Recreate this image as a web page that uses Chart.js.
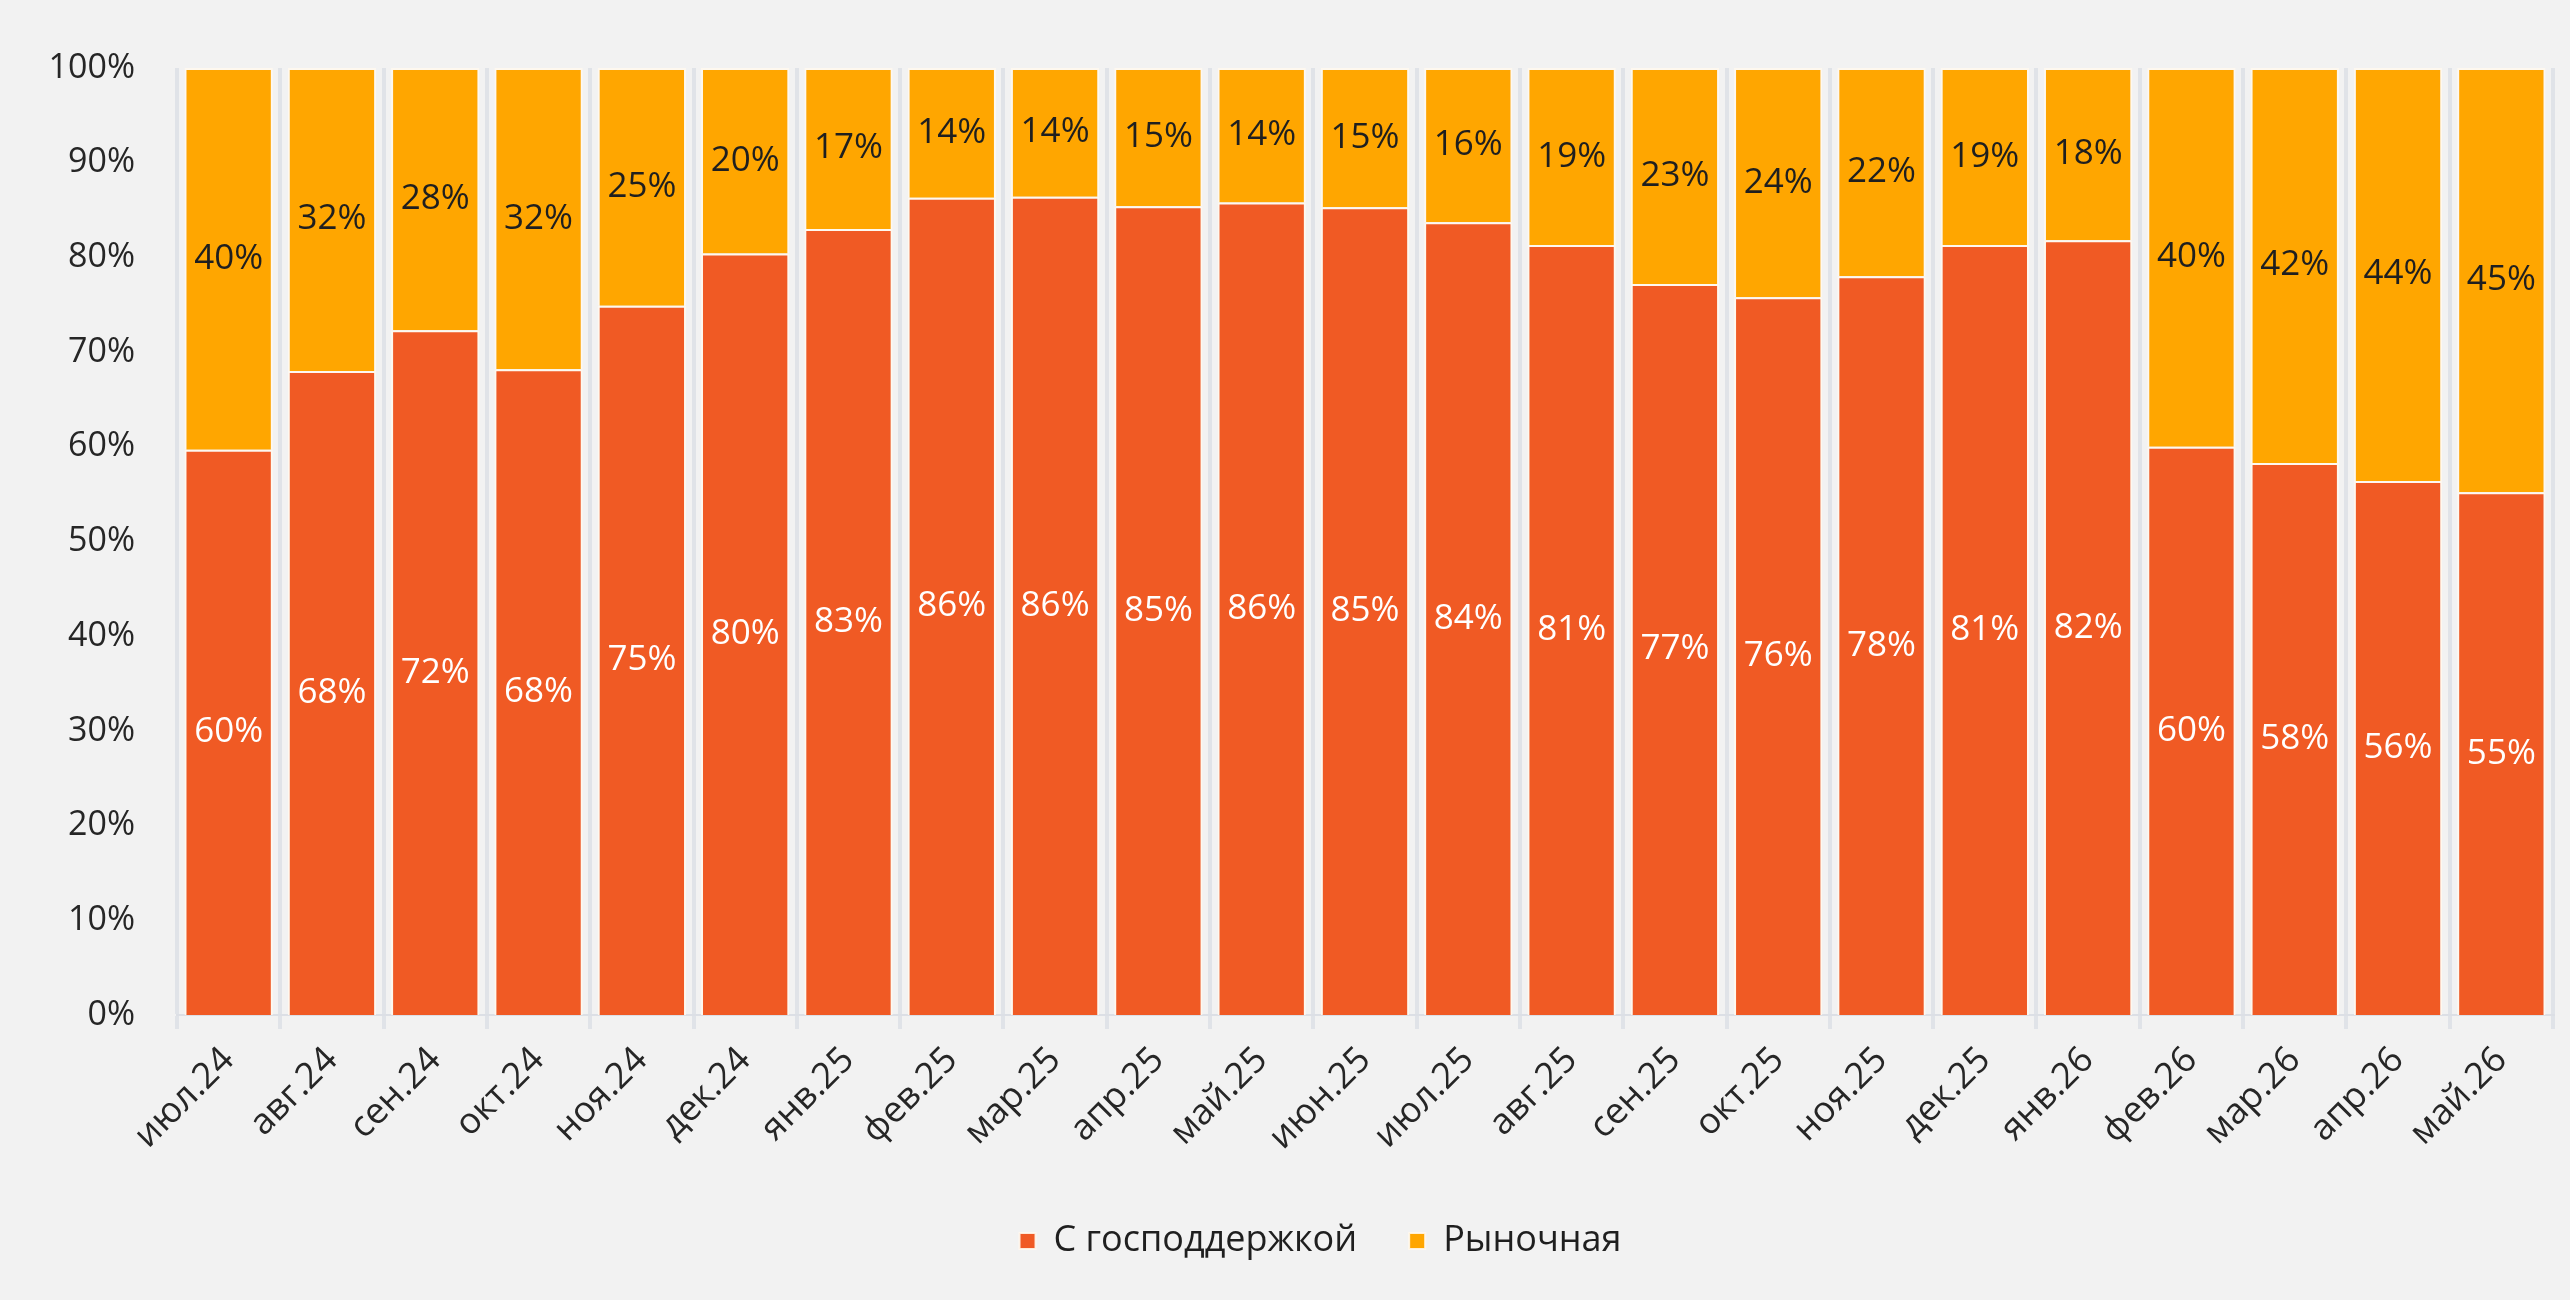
<!DOCTYPE html>
<html>
<head>
<meta charset="utf-8">
<script src="https://cdn.jsdelivr.net/npm/chart.js@4"></script>
<style>
  html, body { margin: 0; padding: 0; background: #f2f2f2; }
  #wrap { width: 2570px; height: 1300px; }
</style>
</head>
<body>
<div id="wrap"><canvas id="mortgageChart" width="2570" height="1300"></canvas></div>
<script>
const months = ['июл.24', 'авг.24', 'сен.24', 'окт.24', 'ноя.24', 'дек.24', 'янв.25', 'фев.25',
    'мар.25', 'апр.25', 'май.25', 'июн.25', 'июл.25', 'авг.25', 'сен.25', 'окт.25', 'ноя.25',
    'дек.25', 'янв.26', 'фев.26', 'мар.26', 'апр.26', 'май.26'];
const withSupport = [59.7, 68.0, 72.3, 68.2, 74.9, 80.4, 83.0, 86.3, 86.4, 85.4, 85.8, 85.3, 83.7,
    81.3, 77.2, 75.8, 78.0, 81.3, 81.8, 60.0, 58.3, 56.4, 55.2];
const market = [40.3, 32.0, 27.7, 31.8, 25.1, 19.6, 17.0, 13.7, 13.6, 14.6, 14.2, 14.7, 16.3,
    18.7, 22.8, 24.2, 22.0, 18.7, 18.2, 40.0, 41.7, 43.6, 44.8];
const yTicks = [0, 10, 20, 30, 40, 50, 60, 70, 80, 90, 100];

const FONT = "'Open Sans', 'Noto Sans', sans-serif";

// подписи значений по центру каждого сегмента
const segmentLabels = {
    id: 'segmentLabels',
    afterDatasetsDraw(chart) {
        const ctx = chart.ctx;
        ctx.save();
        ctx.font = '35px ' + FONT;
        ctx.textAlign = 'center';
        ctx.textBaseline = 'middle';
        chart.data.datasets.forEach((ds, i) => {
            const meta = chart.getDatasetMeta(i);
            ctx.fillStyle = i === 0 ? '#ffffff' : '#1f1f1f';
            meta.data.forEach((bar, j) => {
                const y = (bar.y + bar.base) / 2;
                ctx.fillText(Math.round(ds.data[j]) + '%', bar.x, y);
            });
        });
        ctx.restore();
    }
};

// легенда в оригинале чуть правее центра холста
const legendShift = {
    id: 'legendShift',
    afterLayout(chart) {
        chart.legend.left += 88;
    }
};

new Chart(document.getElementById('mortgageChart'), {
    type: 'bar',
    data: {
        labels: months,
        datasets: [{
            label: 'С господдержкой',
            data: withSupport,
            backgroundColor: 'rgb(240, 90, 36)',
            borderColor: 'rgba(255, 248, 238, 0.9)',
            borderWidth: 2,
            barPercentage: 0.855,
            categoryPercentage: 1
        }, {
            label: 'Рыночная',
            data: market,
            backgroundColor: 'rgb(255, 166, 0)',
            borderColor: 'rgba(255, 248, 238, 0.9)',
            borderWidth: 2,
            barPercentage: 0.855,
            categoryPercentage: 1
        }]
    },
    options: {
        responsive: false,
        animation: false,
        layout: {
            padding: { top: 68, right: 17, bottom: 31, left: 0 }
        },
        plugins: {
            legend: {
                position: 'bottom',
                labels: {
                    font: { family: FONT, size: 36 },
                    color: '#1f1f1f',
                    boxWidth: 16,
                    boxHeight: 16,
                    padding: 52
                }
            },
            tooltip: { enabled: false }
        },
        scales: {
            x: {
                stacked: true,
                grid: {
                    display: true,
                    offset: true,
                    drawOnChartArea: true,
                    color: '#e0e3e8',
                    lineWidth: 4,
                    tickLength: 14
                },
                border: { display: true, color: '#dcdfe5', width: 2 },
                ticks: {
                    font: { family: FONT, size: 36 },
                    color: '#262626',
                    maxRotation: 45,
                    minRotation: 45,
                    padding: 10
                },
                afterFit(scale) { scale.height = 156; }
            },
            y: {
                stacked: true,
                min: 0,
                max: 100,
                afterBuildTicks(scale) { scale.ticks = yTicks.map(v => ({ value: v })); },
                grid: { display: false },
                border: { display: false },
                ticks: {
                    font: { family: FONT, size: 34 },
                    color: '#262626',
                    padding: 34,
                    callback: v => v + '%'
                },
                afterFit(scale) { scale.width = 177; }
            }
        }
    },
    plugins: [segmentLabels, legendShift]
});
</script>
</body>
</html>
